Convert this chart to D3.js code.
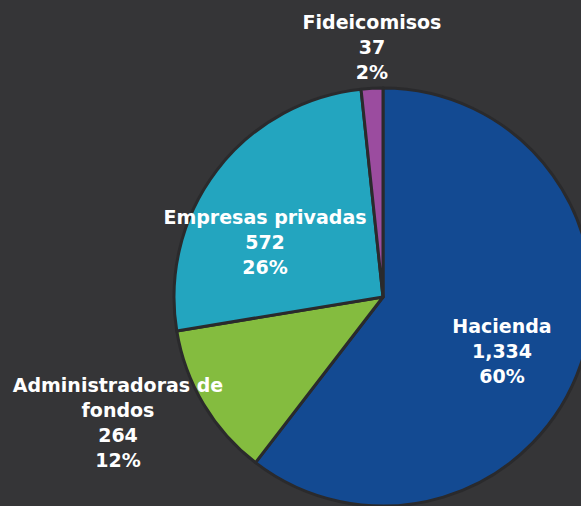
<!DOCTYPE html>
<html>
<head>
<meta charset="utf-8">
<script src="https://cdn.jsdelivr.net/npm/d3@7"></script>
<style>
  body { margin: 0; background: #353537; }
  svg { display: block; }
</style>
</head>
<body>
<script>
// data
var categories = ["Hacienda", "Administradoras de fondos", "Empresas privadas", "Fideicomisos"];
var values = [1334, 264, 572, 37];
var percents = ["60%", "12%", "26%", "2%"];
var colors = ["#134a92", "#84bc3f", "#23a5bf", "#9b4c9f"];

// label lines (name may wrap) and where the label block is centred
var nameLines = [["Hacienda"], ["Administradoras de", "fondos"], ["Empresas privadas"], ["Fideicomisos"]];
var labelPos = [[502, 326], [118, 385], [265, 217], [372, 22]];

var w = 581, h = 506;
var cx = 383, cy = 297, r = 209;

var svg = d3.select("body").append("svg").attr("width", w).attr("height", h);
svg.append("rect").attr("width", w).attr("height", h).attr("fill", "#353537");

var pie = d3.pie().sort(null).value(function(d) { return d; });
var arc = d3.arc().innerRadius(0).outerRadius(r);

var g = svg.append("g").attr("transform", "translate(" + cx + "," + cy + ")");
g.selectAll("path").data(pie(values)).enter()
  .append("path")
  .attr("d", arc)
  .attr("fill", function(d, i) { return colors[i]; })
  .attr("stroke", "#2a2a2c")
  .attr("stroke-width", 3)
  .attr("stroke-linejoin", "round");

var fmt = d3.format(",");
var lineH = 25;

categories.forEach(function(c, i) {
  var lines = nameLines[i].concat([fmt(values[i]), percents[i]]);
  var t = svg.append("text")
    .attr("x", labelPos[i][0])
    .attr("y", labelPos[i][1])
    .attr("text-anchor", "middle")
    .attr("fill", "#ffffff")
    .attr("font-family", "DejaVu Sans, sans-serif")
    .attr("font-weight", "bold")
    .attr("font-size", 19);
  lines.forEach(function(l, j) {
    t.append("tspan")
      .attr("x", labelPos[i][0])
      .attr("dy", j === 0 ? "0.35em" : lineH)
      .text(l);
  });
});
</script>
</body>
</html>
